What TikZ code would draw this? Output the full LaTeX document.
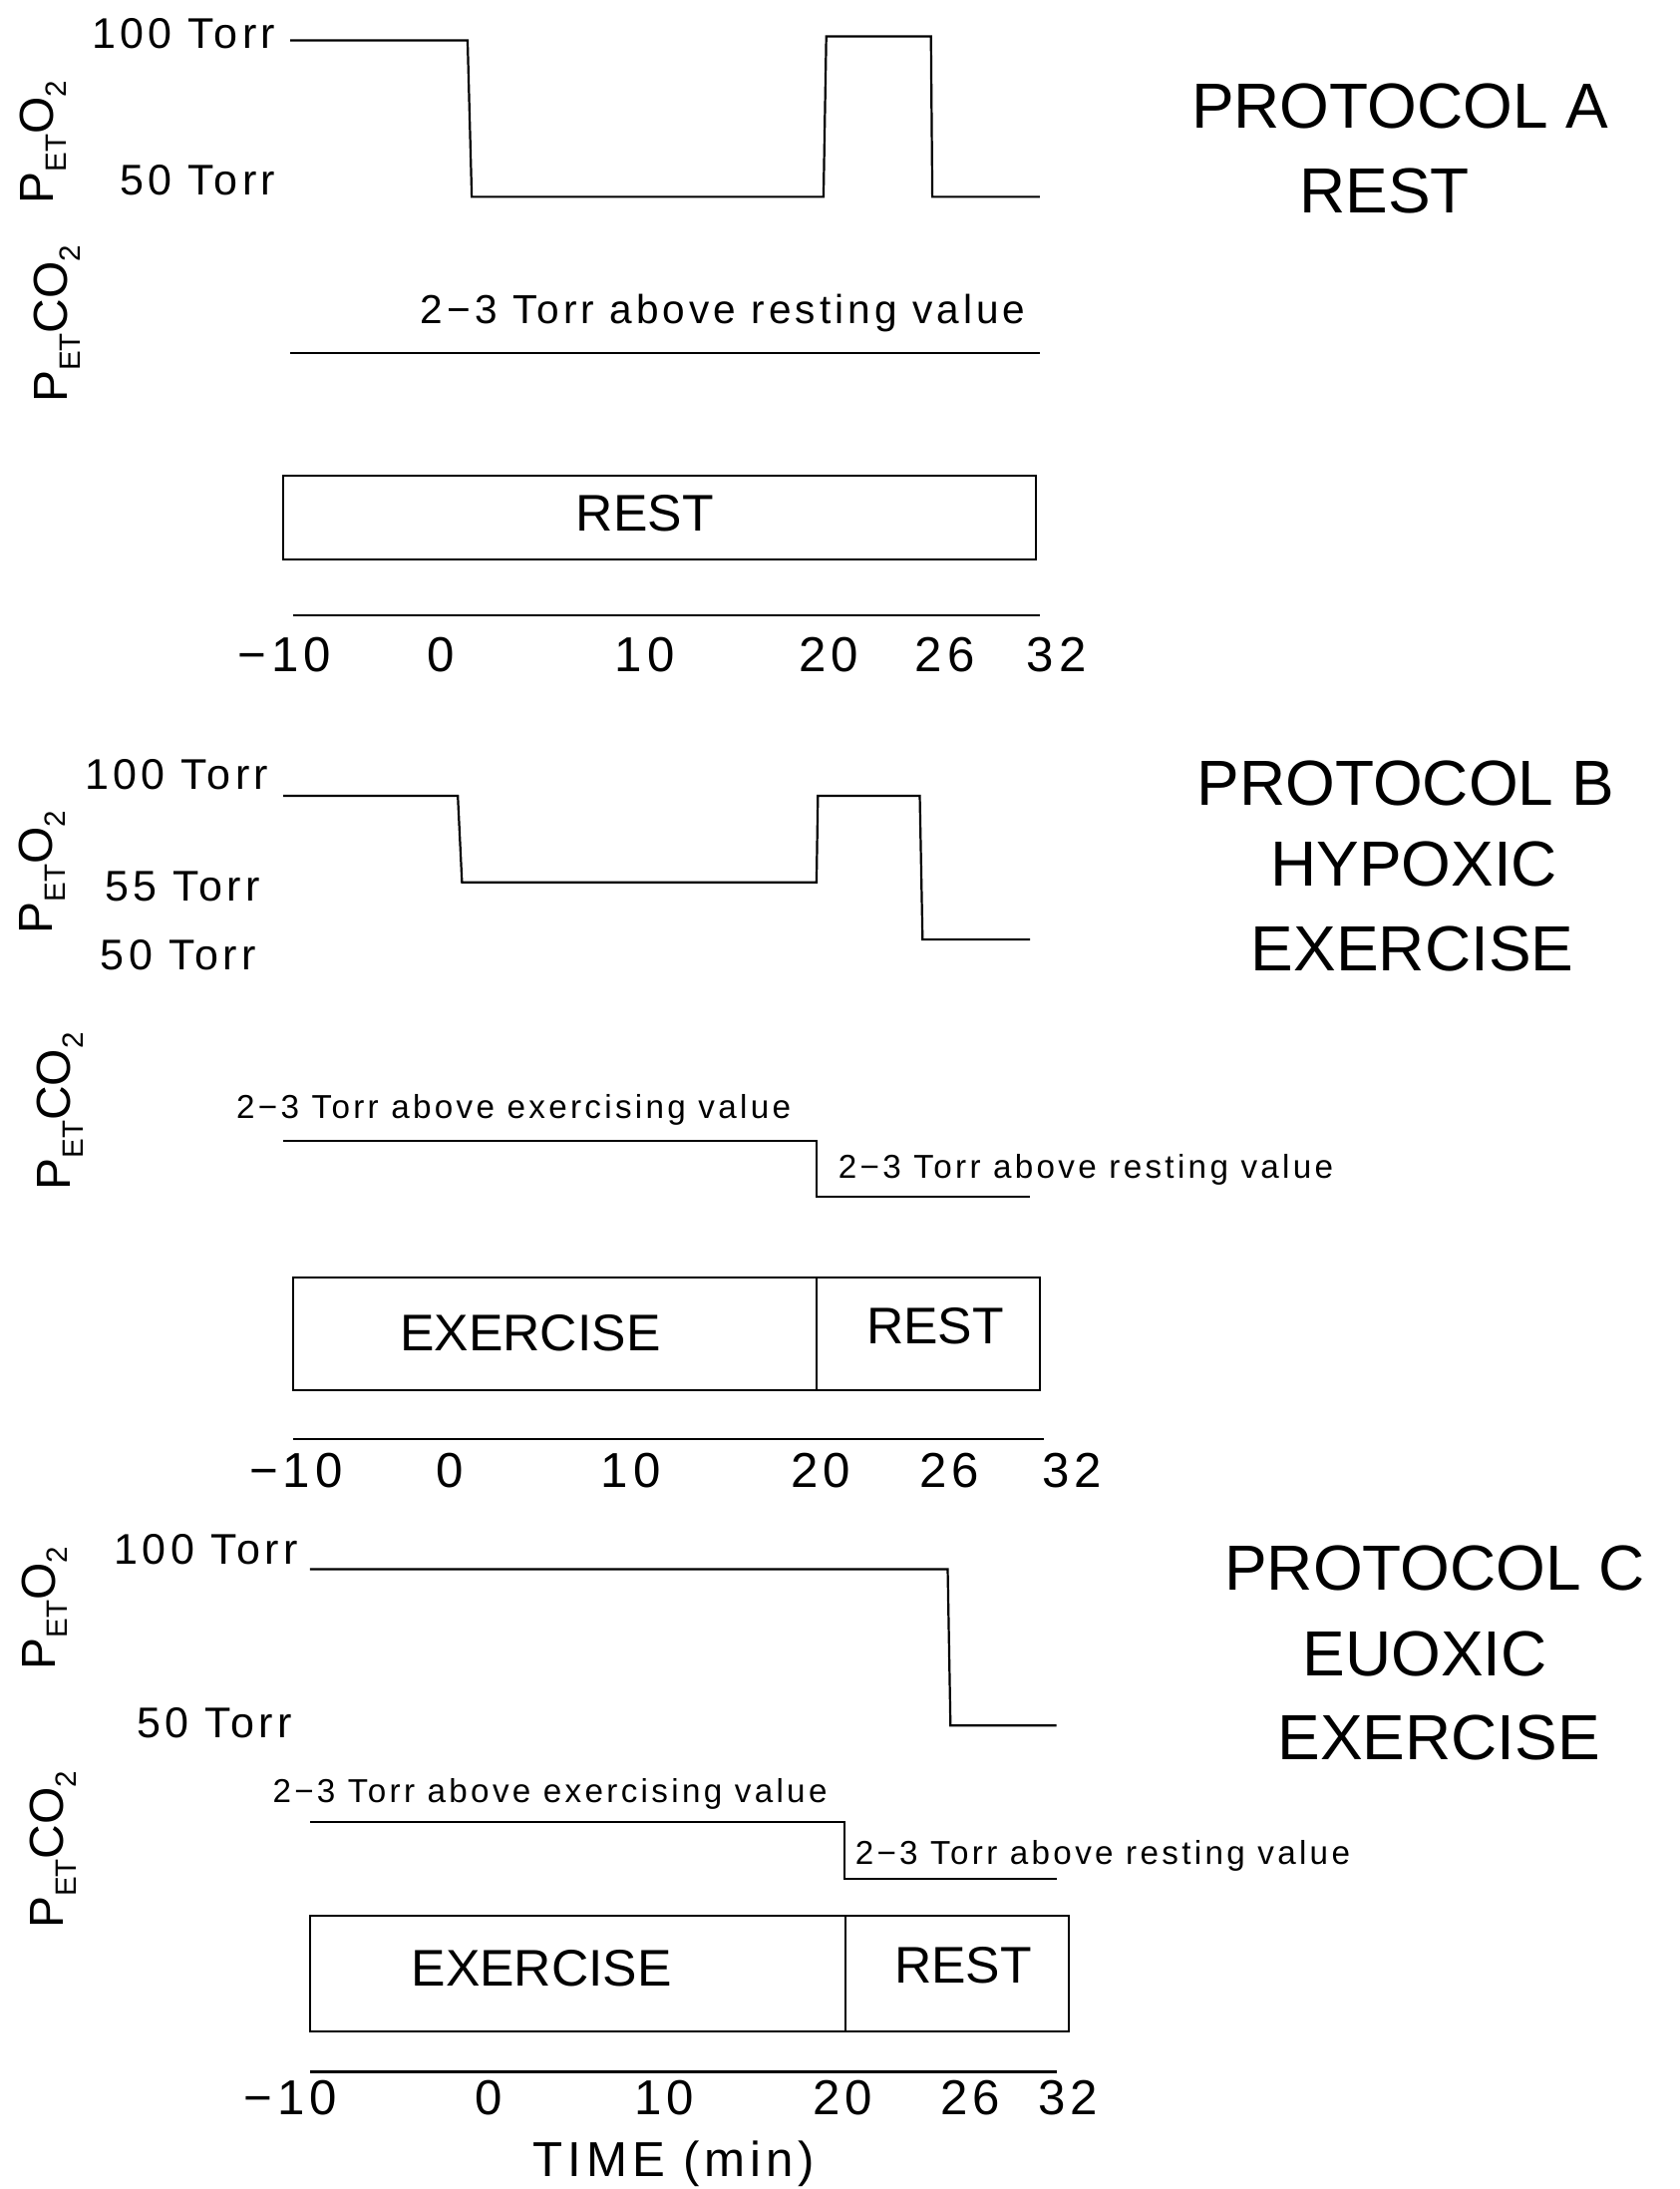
\documentclass[tikz,border=0pt]{standalone}
\usepackage{fontspec}
\setmainfont{Liberation Sans}
\newfontfamily\lsfont[LetterSpace=10]{Liberation Sans}
\newcommand\lowsub[1]{\raisebox{-0.5ex}{\fontsize{12}{12}\selectfont #1}}
\begin{document}
\begin{tikzpicture}[x=0.02cm,y=-0.02cm,line width=0.9pt,line join=miter,
  lvl/.style={font=\lsfont\fontsize{17.5}{19}\selectfont,anchor=east,inner sep=0pt},
  ttl/.style={font=\fontsize{26}{30}\selectfont,inner sep=0pt},
  tick/.style={font=\lsfont\fontsize{20}{22}\selectfont,inner sep=0pt},
  ylab/.style={rotate=90,font=\fontsize{19.5}{21}\selectfont,inner sep=0pt},
  boxlab/.style={font=\fontsize{21}{24}\selectfont,inner sep=0pt},
  note/.style={font=\lsfont\fontsize{16.5}{18}\selectfont,inner sep=0pt},
  notes/.style={font=\lsfont\fontsize{13.5}{15}\selectfont,inner sep=0pt},
  trace/.style={line width=0.9pt}]
\useasboundingbox (0,0) rectangle (1203,1568);

% ================= PANEL A =================
\node[ylab] (aO2) at (31,102) {P\lowsub{ET}O\lowsub{2}};
\node[ylab] (aCO2) at (41,232) {P\lowsub{ET}CO\lowsub{2}};
\node[lvl] (a100) at (198,24) {100 Torr};
\node[lvl] (a50) at (198,129) {50 Torr};
\draw[trace] (208,29) -- (335,29) -- (338,141) -- (590,141) -- (592,26) -- (667,26) -- (668,141) -- (745,141);
\node[note] (anote) at (518,224) {2−3 Torr above resting value};
\draw[trace] (208,253) -- (745,253);
\draw[trace] (203,341) rectangle (742,401);
\node[boxlab] (arest) at (462,368) {REST};
\draw[trace] (210,441) -- (745,441);
\node[tick] (at1) at (204,469) {−10};
\node[tick] (at2) at (316,469) {0};
\node[tick] (at3) at (462,469) {10};
\node[tick] (at4) at (594,469) {20};
\node[tick] (at5) at (677,469) {26};
\node[tick] (at6) at (757,469) {32};
\node[ttl] (atitle1) at (1003,76) {PROTOCOL A};
\node[ttl] (atitle2) at (992,137) {REST};

% ================= PANEL B =================
\node[ylab] (bO2) at (30,625) {P\lowsub{ET}O\lowsub{2}};
\node[ylab] (bCO2) at (43,796) {P\lowsub{ET}CO\lowsub{2}};
\node[lvl] (b100) at (193,555) {100 Torr};
\node[lvl] (b55) at (187,635) {55 Torr};
\node[lvl] (b50) at (184,684) {50 Torr};
\draw[trace] (203,570) -- (328,570) -- (331,632) -- (585,632) -- (586,570) -- (659,570) -- (661,673) -- (738,673);
\node[notes] (bnote1) at (368,795) {2−3 Torr above exercising value};
\draw[trace] (203,817) -- (585,817) -- (585,857) -- (738,857);
\node[notes] (bnote2) at (778,838) {2−3 Torr above resting value};
\draw[trace] (210,915) rectangle (745,996);
\draw[trace] (585,915) -- (585,996);
\node[boxlab] (bex) at (380,955) {EXERCISE};
\node[boxlab] (brest) at (670,950) {REST};
\draw[trace] (210,1031) -- (748,1031);
\node[tick] (bt1) at (212,1053) {−10};
\node[tick] (bt2) at (322,1053) {0};
\node[tick] (bt3) at (452,1053) {10};
\node[tick] (bt4) at (588,1053) {20};
\node[tick] (bt5) at (680,1053) {26};
\node[tick] (bt6) at (768,1053) {32};
\node[ttl] (btitle1) at (1007,561) {PROTOCOL B};
\node[ttl] (btitle2) at (1013,619) {HYPOXIC};
\node[ttl] (btitle3) at (1012,680) {EXERCISE};

% ================= PANEL C =================
\node[ylab] (cO2) at (32,1152) {P\lowsub{ET}O\lowsub{2}};
\node[ylab] (cCO2) at (38,1325) {P\lowsub{ET}CO\lowsub{2}};
\node[lvl] (c100) at (214,1110) {100 Torr};
\node[lvl] (c50) at (210,1234) {50 Torr};
\draw[trace] (222,1124) -- (679,1124) -- (681,1236) -- (757,1236);
\node[notes] (cnote1) at (394,1285) {2−3 Torr above exercising value};
\draw[trace] (222,1305) -- (605,1305) -- (605,1346) -- (757,1346);
\node[notes] (cnote2) at (790,1329) {2−3 Torr above resting value};
\draw[trace] (222,1372) rectangle (766,1455);
\draw[trace] (606,1372) -- (606,1455);
\node[boxlab] (cex) at (388,1410) {EXERCISE};
\node[boxlab] (crest) at (690,1408) {REST};
\draw[trace] (222,1484) -- (757,1484);
\node[tick] (ct1) at (208,1503) {−10};
\node[tick] (ct2) at (350,1503) {0};
\node[tick] (ct3) at (476,1503) {10};
\node[tick] (ct4) at (604,1503) {20};
\node[tick] (ct5) at (695,1503) {26};
\node[tick] (ct6) at (765,1503) {32};
\node[tick] (ctime) at (483,1550) {TIME (min)};
\node[ttl] (ctitle1) at (1028,1123) {PROTOCOL C};
\node[ttl] (ctitle2) at (1021,1185) {EUOXIC};
\node[ttl] (ctitle3) at (1031,1245) {EXERCISE};
\end{tikzpicture}
\end{document}
